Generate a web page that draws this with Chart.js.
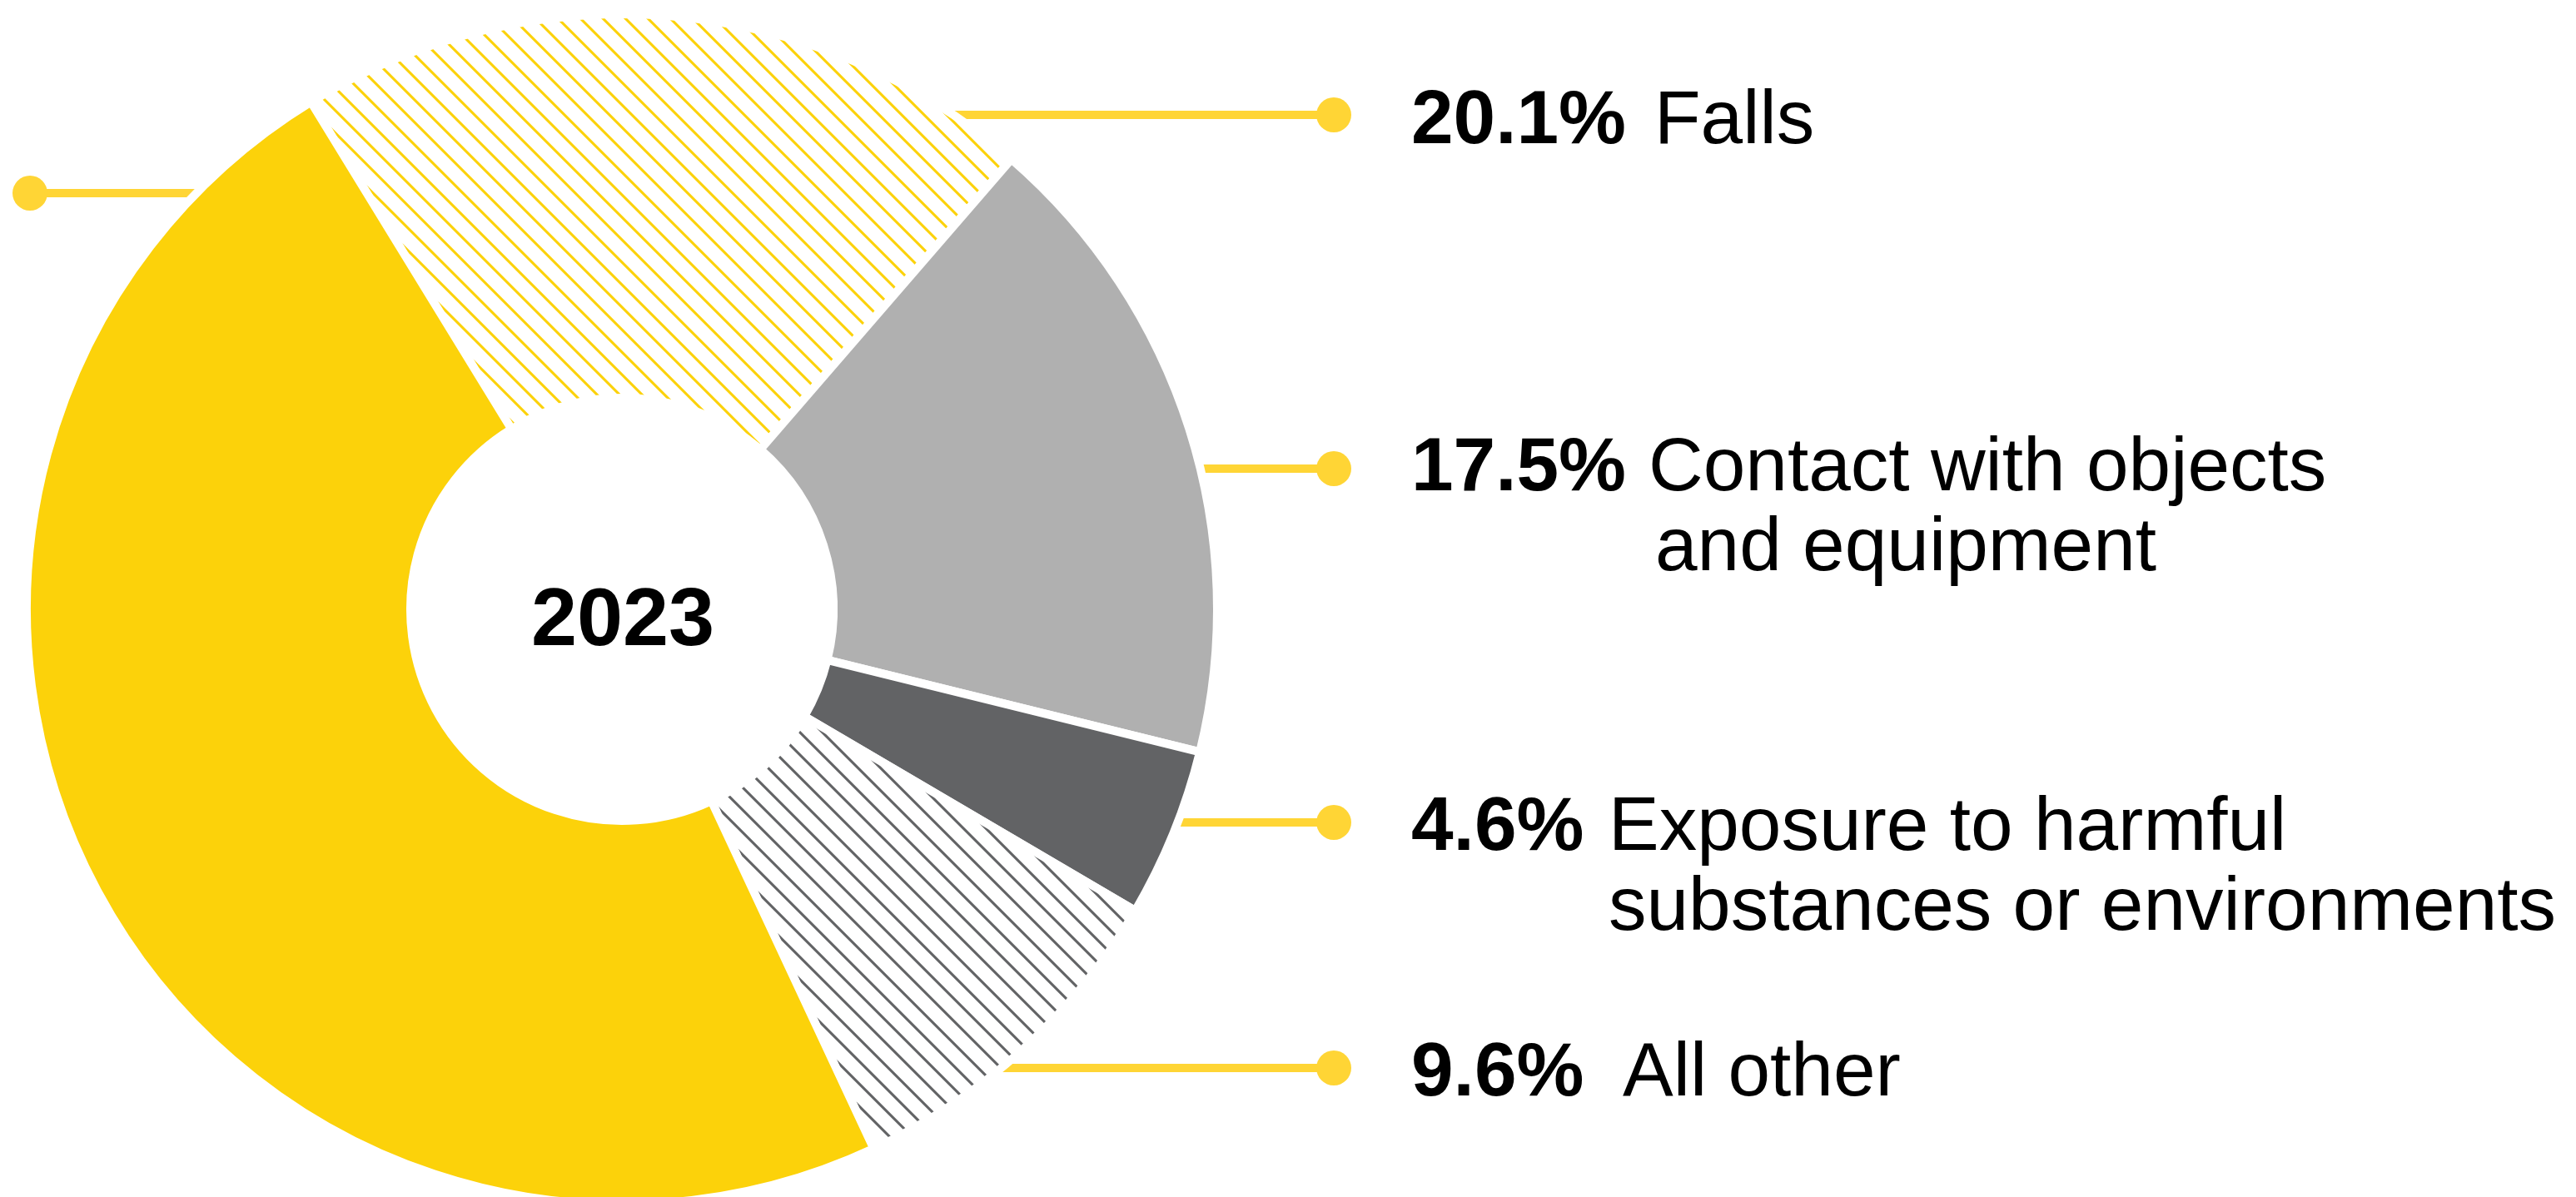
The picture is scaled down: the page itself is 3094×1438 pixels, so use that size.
<!DOCTYPE html>
<html>
<head>
<meta charset="utf-8">
<script src="https://cdn.jsdelivr.net/npm/chart.js@4.4.1/dist/chart.umd.min.js"></script>
<style>
  html, body { margin: 0; padding: 0; background: #ffffff; overflow: hidden; width: 3094px; height: 1438px; }
  canvas { display: block; }
</style>
</head>
<body>
<canvas id="chart" width="3094" height="1452"></canvas>
<script>
// ---- Data ----
const categories = ['Falls', 'Contact with objects and equipment', 'Exposure to harmful substances or environments', 'All other', ''];
const shares = [20.1, 17.5, 4.6, 9.6, 48.2];            // percent; last slice's label is cropped in the reference
const shareLabels = ['20.1%', '17.5%', '4.6%', '9.6%', ''];
const labelLines = [['Falls'], ['Contact with objects', 'and equipment'], ['Exposure to harmful', 'substances or environments'], ['All other'], []];
const centerLabel = '2023';

// ---- Styling / layout ----
const YELLOW = '#FCD20A';
const LIGHT_GRAY = '#B0B0B0';
const DARK_GRAY = '#626365';
const LEADER = '#FFD535';

const dotX = [1602, 1602, 1602, 1602, 36];
const dotY = [138, 563, 988, 1283, 232];
const pctX = 1695;
const textX = [1987, 1980, 1932, 1949];
const contX = [1987, 1988, 1932, 1949];
const baseY = [172, 589, 1021, 1316];
const LINE_H = 96;

// seamless diagonal hatch ("\" direction), built pixel by pixel
function hatch(hex) {
  const s = 27, w = 3.2;
  const r = parseInt(hex.slice(1, 3), 16), g = parseInt(hex.slice(3, 5), 16), b = parseInt(hex.slice(5, 7), 16);
  const c = document.createElement('canvas');
  c.width = s; c.height = s;
  const cx = c.getContext('2d');
  const img = cx.createImageData(s, s);
  for (let y = 0; y < s; y++) {
    for (let x = 0; x < s; x++) {
      let m = ((x - y) % s + s) % s;
      const d = Math.min(m, s - m) / Math.SQRT2;
      const a = Math.max(0, Math.min(1, w / 2 + 0.5 - d));
      const i = (y * s + x) * 4;
      img.data[i] = Math.round(255 + (r - 255) * a);
      img.data[i + 1] = Math.round(255 + (g - 255) * a);
      img.data[i + 2] = Math.round(255 + (b - 255) * a);
      img.data[i + 3] = 255;
    }
  }
  cx.putImageData(img, 0, 0);
  return cx.createPattern(c, 'repeat');
}

const decor = {
  id: 'decor',
  beforeDatasetsDraw(chart) {
    const arc = chart.getDatasetMeta(0).data[0];
    const cx = arc.x, cy = arc.y, R = arc.outerRadius;
    const ctx = chart.ctx;
    ctx.save();
    ctx.strokeStyle = LEADER;
    ctx.lineWidth = 10;
    ctx.lineCap = 'butt';
    for (let i = 0; i < dotY.length; i++) {
      const dy = dotY[i] - cy;
      const half = Math.sqrt(Math.max(R * R - dy * dy, 0));
      const edge = dotX[i] > cx ? cx + half - 20 : cx - half + 20;
      ctx.beginPath();
      ctx.moveTo(dotX[i], dotY[i]);
      ctx.lineTo(edge, dotY[i]);
      ctx.stroke();
    }
    ctx.restore();
  },
  afterDraw(chart) {
    const arc = chart.getDatasetMeta(0).data[0];
    const ctx = chart.ctx;
    ctx.save();
    ctx.fillStyle = LEADER;
    for (let i = 0; i < dotY.length; i++) {
      ctx.beginPath();
      ctx.arc(dotX[i], dotY[i], 21, 0, Math.PI * 2);
      ctx.fill();
    }
    ctx.fillStyle = '#000000';
    ctx.textBaseline = 'alphabetic';
    ctx.textAlign = 'left';
    for (let i = 0; i < shareLabels.length; i++) {
      if (!shareLabels[i]) continue;
      ctx.font = 'bold 91px "Liberation Sans", Arial, sans-serif';
      ctx.fillText(shareLabels[i], pctX, baseY[i]);
      ctx.font = '91px "Liberation Sans", Arial, sans-serif';
      labelLines[i].forEach((t, j) => {
        ctx.fillText(t, j === 0 ? textX[i] : contX[i], baseY[i] + j * LINE_H);
      });
    }
    ctx.font = 'bold 99px "Liberation Sans", Arial, sans-serif';
    ctx.textAlign = 'center';
    ctx.fillText(centerLabel, arc.x + 1, arc.y + 43);
    ctx.restore();
  }
};

new Chart(document.getElementById('chart'), {
  type: 'doughnut',
  data: {
    labels: categories,
    datasets: [{
      data: shares,
      backgroundColor: [hatch(YELLOW), LIGHT_GRAY, DARK_GRAY, hatch(DARK_GRAY), YELLOW],
      borderColor: '#ffffff',
      borderWidth: 10,
      hoverOffset: 0
    }]
  },
  options: {
    responsive: false,
    devicePixelRatio: 1,
    animation: false,
    events: [],
    rotation: -31.5,
    cutout: 254,
    radius: 715,
    layout: { padding: { left: 27, right: 1627, top: 12, bottom: 0 } },
    plugins: { legend: { display: false }, tooltip: { enabled: false } }
  },
  plugins: [decor]
});
</script>
</body>
</html>
